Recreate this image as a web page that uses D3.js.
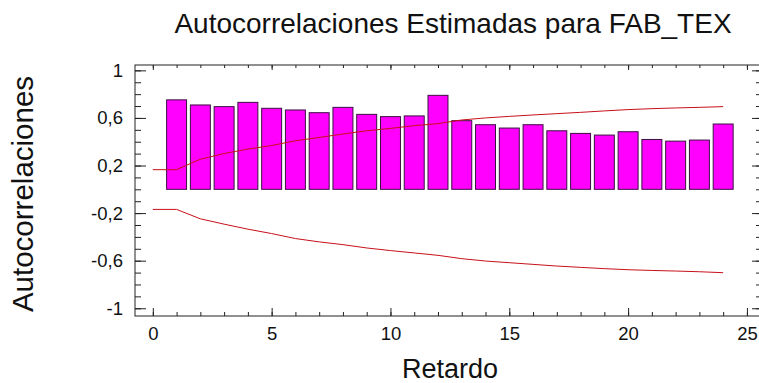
<!DOCTYPE html>
<html>
<head>
<meta charset="utf-8">
<script src="https://cdn.jsdelivr.net/npm/d3@7"></script>
<style>
  html, body { margin: 0; padding: 0; background: #fff; }
  text { font-family: "Liberation Sans", Arial, sans-serif; fill: #111; }
</style>
</head>
<body>
<div id="chart"></div>
<script>
// values
const lags = [1, 2, 3, 4, 5, 6, 7, 8, 9, 10, 11, 12, 13, 14, 15, 16, 17, 18, 19, 20, 21, 22, 23, 24];
const acf = [0.752, 0.709, 0.695, 0.731, 0.681, 0.667, 0.644, 0.689, 0.630, 0.611, 0.617, 0.790,
             0.577, 0.543, 0.515, 0.543, 0.492, 0.470, 0.456, 0.484, 0.419, 0.405, 0.414, 0.549];
const limitLags = [0, 1, 2, 3, 4, 5, 6, 7, 8, 9, 10, 11, 12, 13, 14, 15, 16, 17, 18, 19, 20, 21, 22, 23, 24];
const upperLimit = [0.165, 0.165, 0.253, 0.301, 0.338, 0.368, 0.408, 0.436, 0.465, 0.492, 0.512, 0.535, 0.552,
                    0.583, 0.600, 0.613, 0.625, 0.636, 0.647, 0.659, 0.670, 0.678, 0.684, 0.689, 0.695];
const lowerLimit = [-0.169, -0.169, -0.248, -0.293, -0.335, -0.372, -0.414, -0.442, -0.465, -0.493, -0.515, -0.535, -0.555,
                    -0.583, -0.603, -0.617, -0.631, -0.645, -0.656, -0.667, -0.676, -0.682, -0.687, -0.693, -0.701];
const xTicks = [0, 5, 10, 15, 20, 25];
const xMinorTicks = [0, 1, 2, 3, 4, 5, 6, 7, 8, 9, 10, 11, 12, 13, 14, 15, 16, 17, 18, 19, 20, 21, 22, 23, 24, 25];
const yTicks = [1, 0.6, 0.2, -0.2, -0.6, -1];
const yTickLabels = ["1", "0,6", "0,2", "-0,2", "-0,6", "-1"];
const yMinorTicks = [1, 0.9, 0.8, 0.7, 0.6, 0.5, 0.4, 0.3, 0.2, 0.1, 0, -0.1, -0.2, -0.3, -0.4, -0.5, -0.6, -0.7, -0.8, -0.9, -1];

const width = 759, height = 383;
const frame = { left: 135, right: 760, top: 65, bottom: 316 };

const svg = d3.select("#chart").append("svg")
    .attr("width", width)
    .attr("height", height);

const x = d3.scaleLinear().domain([-0.75, 25.55]).range([frame.left, frame.right]);
const y = d3.scaleLinear().domain([-1.065, 1.045]).range([frame.bottom, frame.top]);

// bars
const barW = x(0.84) - x(0);
svg.selectAll(".bar")
    .data(lags)
    .enter()
    .append("rect")
    .attr("class", "bar")
    .attr("x", (d) => x(d) - barW / 2)
    .attr("y", (d, i) => y(acf[i]))
    .attr("width", barW)
    .attr("height", (d, i) => y(0) - y(acf[i]))
    .attr("fill", "#ff00ff")
    .attr("stroke", "#3a1040")
    .attr("stroke-width", 1);

// limit lines
const line = d3.line().x((d) => x(d[0])).y((d) => y(d[1]));
[upperLimit, lowerLimit].forEach(function (arr) {
    svg.append("path")
        .datum(limitLags.map((l, i) => [l, arr[i]]))
        .attr("d", line)
        .attr("fill", "none")
        .attr("stroke", "#c8101a")
        .attr("stroke-width", 1);
});

// axes, ticks pointing inward
const tickFont = "18.5px";
const addAxis = function (axis, tx, ty, showLabels) {
    const g = svg.append("g")
        .attr("transform", "translate(" + tx + "," + ty + ")")
        .call(axis);
    g.select(".domain").remove();
    g.selectAll("line").attr("stroke", "#222");
    if (!showLabels) g.selectAll("text").remove();
    else g.selectAll("text").style("font-size", tickFont).attr("fill", "#111");
    return g;
};

// left
addAxis(d3.axisLeft(y).tickValues(yMinorTicks).tickSize(-6).tickFormat(""), frame.left, 0, false);
addAxis(d3.axisLeft(y).tickValues(yTicks).tickSize(-11).tickPadding(12)
    .tickFormat((d, i) => yTickLabels[i]), frame.left, 0, true);
// right
addAxis(d3.axisRight(y).tickValues(yMinorTicks).tickSize(-4).tickFormat(""), frame.right, 0, false);
addAxis(d3.axisRight(y).tickValues(yTicks).tickSize(-8).tickFormat(""), frame.right, 0, false);
// bottom
addAxis(d3.axisBottom(x).tickValues(xMinorTicks).tickSize(-4).tickFormat(""), 0, frame.bottom, false);
addAxis(d3.axisBottom(x).tickValues(xTicks).tickSize(-8).tickPadding(11)
    .tickFormat(d3.format("d")), 0, frame.bottom, true);
// top
addAxis(d3.axisTop(x).tickValues(xMinorTicks).tickSize(-3).tickFormat(""), 0, frame.top, false);
addAxis(d3.axisTop(x).tickValues(xTicks).tickSize(-5).tickFormat(""), 0, frame.top, false);

// frame
svg.append("rect")
    .attr("x", frame.left)
    .attr("y", frame.top)
    .attr("width", frame.right - frame.left)
    .attr("height", frame.bottom - frame.top)
    .attr("fill", "none")
    .attr("stroke", "#222")
    .attr("stroke-width", 1);

// titles
svg.append("text")
    .attr("x", 453)
    .attr("y", 33)
    .attr("text-anchor", "middle")
    .style("font-size", "28px")
    .text("Autocorrelaciones Estimadas para FAB_TEX");

svg.append("text")
    .attr("x", 450)
    .attr("y", 378)
    .attr("text-anchor", "middle")
    .style("font-size", "27px")
    .text("Retardo");

svg.append("text")
    .attr("transform", "translate(33,194) rotate(-90)")
    .attr("text-anchor", "middle")
    .style("font-size", "29.5px")
    .text("Autocorrelaciones");
</script>
</body>
</html>
